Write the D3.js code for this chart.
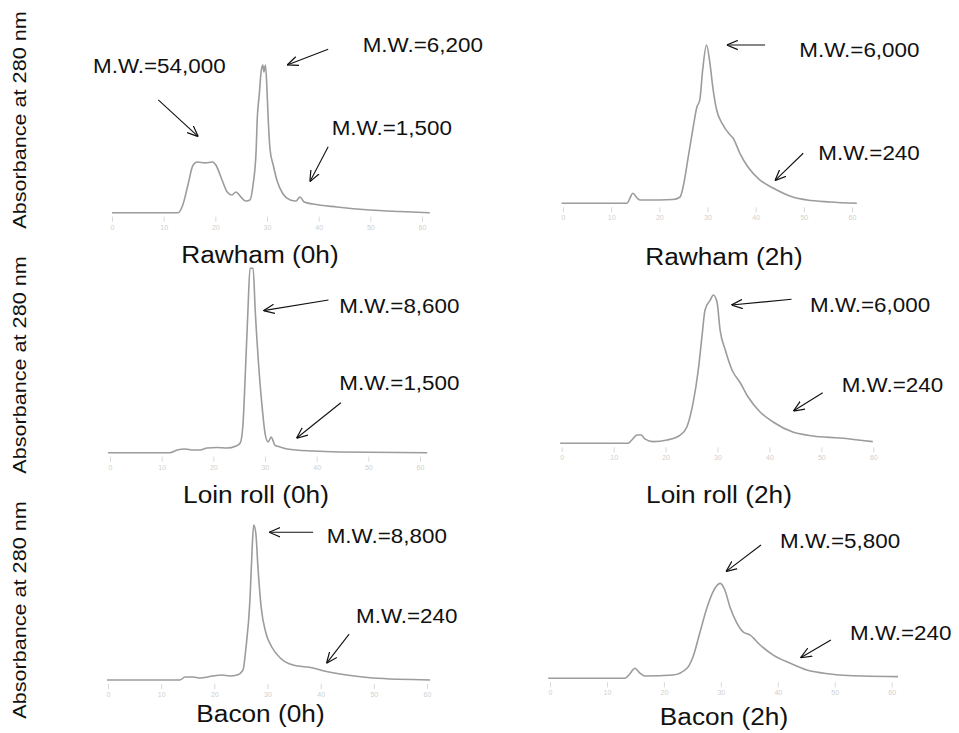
<!DOCTYPE html>
<meta charset="utf-8">
<style>
body { margin: 0; background: #fff; }
svg text { font-family: "Liberation Sans", Arial, sans-serif; fill: #111; }
.trace { fill: none; stroke: #9c9c9c; stroke-width: 1.6px; stroke-linejoin: round; }
.axis .domain { display: none; }
.axis .tick line { stroke: #d8d8d8; }
.axis .tick text { fill: #cfcfcf; font-size: 7px; }
.arrow { stroke: #111; stroke-width: 1.1px; fill: none; }
.title { font-size: 23px; }
.mw { font-size: 20px; }
.ylab { font-size: 18px; }
</style>
<body>
<script src="https://d3js.org/d3.v7.min.js"></script>
<script>
// elution position (0-60) and absorbance (arbitrary units)
var rawham0hX = [0, 12.8, 13.7, 14.7, 15.7, 16.5, 18.0, 19.5, 20.1, 21.3, 22.3, 23.2, 24.0, 24.8, 25.9, 26.7, 27.3, 27.9, 28.1, 28.5, 28.9, 29.2, 29.4, 29.7, 30.0, 30.2, 30.6, 31.2, 31.9, 33.1, 34.5, 35.6, 36.4, 37.2, 38.9, 43.5, 49.9, 55.7, 61.5];
var rawham0hY = [0, 0, 5.1, 18.5, 31.8, 33.8, 33.2, 33.8, 31.8, 21.8, 13.8, 11.8, 13.8, 11.1, 7.8, 8.5, 18.5, 41.8, 61.8, 78.5, 95.1, 98.5, 93.8, 98.5, 81.8, 65.1, 41.8, 31.8, 21.8, 12.5, 8.5, 7.8, 10.5, 7.1, 5.8, 3.8, 1.8, 0.8, 0];

var rawham2hX = [-0.3, 13.3, 13.9, 14.5, 15.4, 16.0, 20.1, 22.8, 24.3, 25.1, 25.9, 27.0, 27.8, 28.4, 29.0, 29.8, 30.5, 31.1, 31.9, 33.0, 34.7, 35.3, 36.7, 38.4, 40.9, 43.6, 47.7, 50.7, 55.4, 61.0];
var rawham2hY = [0, 0, 3.5, 6.7, 3.5, 2.2, 2.2, 2.5, 4.2, 13.5, 28.9, 50.2, 64.2, 68.9, 88.9, 105.5, 93.5, 77.5, 62.2, 53.5, 45.5, 43.5, 33.5, 24.2, 15.5, 10.2, 4.2, 2.2, 0.9, 0];

var loin0hX = [-0.4, 11.6, 13.0, 14.5, 16.1, 17.4, 18.8, 20.7, 22.6, 24.4, 25.2, 25.7, 26.3, 26.7, 27.1, 27.7, 28.1, 28.7, 29.5, 30.0, 30.6, 31.2, 31.9, 32.9, 34.3, 39.3, 44.5, 61.4];
var loin0hY = [0, 0, 1.8, 2.5, 1.8, 1.8, 3.1, 3.5, 3.1, 4.5, 6.5, 17.1, 61.8, 95.1, 123, 123, 95.1, 61.8, 28.5, 13.1, 7.1, 10.5, 5.1, 3.8, 2.5, 1.1, 0.5, 0];

var loin2hX = [-0.3, 12.8, 13.5, 14.5, 15.3, 16.0, 17.6, 20.3, 22.8, 24.1, 25.3, 26.3, 27.0, 27.6, 28.6, 29.2, 29.9, 30.5, 31.5, 32.8, 34.4, 35.9, 38.2, 40.7, 44.5, 48.4, 53.6, 59.9];
var loin2hY = [0, 0, 2.2, 5.5, 5.5, 2.9, 1.1, 2.2, 5.5, 10.9, 26.9, 48.9, 70.9, 88.9, 95.5, 98.9, 94.2, 75.5, 62.2, 48.9, 40.2, 30.9, 20.9, 14.2, 7.5, 4.9, 3.5, 1.1];

var bacon0hX = [-0.2, 13.5, 14.5, 16.0, 17.3, 19.7, 21.4, 22.9, 24.3, 25.4, 25.9, 26.7, 27.1, 27.4, 27.8, 28.2, 28.8, 29.7, 30.8, 32.4, 34.8, 38.6, 39.9, 44.9, 49.8, 60.6];
var bacon0hY = [0, 0, 2, 2, 1.3, 2.7, 3.3, 2.7, 3.3, 6.7, 20, 53.3, 86.7, 103.3, 98, 75.3, 48.7, 31.3, 22, 14.7, 10, 8, 6.7, 3.3, 1.3, 0];

var bacon2hX = [-0.3, 13.2, 14.0, 14.9, 15.8, 16.7, 21.6, 24.1, 25.1, 26.3, 27.6, 28.6, 29.9, 30.7, 31.6, 32.8, 33.9, 35.1, 36.9, 39.2, 42.1, 45.1, 49.2, 55.0, 61.1];
var bacon2hY = [0, 0, 2.9, 6.7, 3.5, 1.5, 2.2, 6.9, 14.2, 30.2, 47.5, 57.5, 63.3, 58.9, 47.5, 36.9, 30.9, 28.9, 22.2, 15.5, 10.2, 5.5, 2.9, 1.5, 1.1];

var tickValues = [0, 10, 20, 30, 40, 50, 60];
var sampleNames = ["Rawham (0h)", "Rawham (2h)", "Loin roll (0h)", "Loin roll (2h)", "Bacon (0h)", "Bacon (2h)"];
var yLabel = "Absorbance at 280 nm";

// molecular weight annotations: label, tip in data units, tail offset px, text position px
var notes = [
    [["M.W.=54,000", 16.7, 50.7, -40, -36.7, 93, 73],
     ["M.W.=6,200", 33.9, 98.5, 41, -15.7, 362.7, 51.7],
     ["M.W.=1,500", 38.3, 20.7, 18.3, -35, 331.7, 135]],
    [["M.W.=6,000", 34.0, 105.5, 38.3, 0, 799.3, 56.7],
     ["M.W.=240", 44.0, 15.1, 28.3, -27.4, 818.3, 160]],
    [["M.W.=8,600", 29.7, 94.7, 65, -10.7, 339.3, 313.3],
     ["M.W.=1,500", 36.1, 9.6, 44.3, -35.6, 339.3, 390]],
    [["M.W.=6,000", 32.7, 92.2, 60, -5.7, 810, 311.7],
     ["M.W.=240", 44.6, 21.5, 29.4, -18.3, 841.7, 391.7]],
    [["M.W.=8,800", 30.3, 98.5, 44, 0, 326.7, 543.3],
     ["M.W.=240", 41.1, 11.1, 22.6, -29.3, 356, 623.3]],
    [["M.W.=5,800", 30.9, 71.1, 35, -26.7, 780, 548.3],
     ["M.W.=240", 44.0, 13.7, 30.3, -17.7, 850, 640]]
];

var series = [[rawham0hX, rawham0hY], [rawham2hX, rawham2hY], [loin0hX, loin0hY],
              [loin2hX, loin2hY], [bacon0hX, bacon0hY], [bacon2hX, bacon2hY]];

// panel frames: pixel x of first/last tick, baseline y, title centre and baseline
var frames = [
    {x0: 112, x6: 422, base: 212.7, tx: 260, ty: 263},
    {x0: 563, x6: 852, base: 203.3, tx: 724, ty: 265},
    {x0: 110, x6: 420, base: 452.7, tx: 256, ty: 503},
    {x0: 561.7, x6: 873.3, base: 443.3, tx: 719, ty: 503},
    {x0: 108, x6: 427, base: 680, tx: 260.5, ty: 721.7},
    {x0: 550, x6: 891.7, base: 678.3, tx: 724, ty: 725}
];

var svg = d3.select("body").append("svg")
    .attr("width", 959)
    .attr("height", 733);

svg.append("defs").append("marker")
    .attr("id", "head")
    .attr("viewBox", "0 0 10 10")
    .attr("refX", 10).attr("refY", 5)
    .attr("markerWidth", 11).attr("markerHeight", 11)
    .attr("markerUnits", "userSpaceOnUse")
    .attr("orient", "auto")
    .append("path")
    .attr("d", "M0,0.8 L10,5 L0,9.2")
    .attr("fill", "none")
    .attr("stroke", "#111")
    .attr("stroke-width", 1.1);

// widen text the way the original lettering is drawn
function widen(sel, k) {
    sel.each(function() {
        var w = this.getComputedTextLength();
        d3.select(this).attr("textLength", w * k).attr("lengthAdjust", "spacingAndGlyphs");
    });
}

frames.forEach(function(f, i) {
    var x = d3.scaleLinear().domain([0, 60]).range([f.x0, f.x6]);
    var y = d3.scaleLinear().domain([0, 100]).range([f.base, f.base - 150]);
    var g = svg.append("g");

    g.append("g")
        .attr("class", "axis")
        .attr("transform", "translate(0," + (f.base + 4) + ")")
        .call(d3.axisBottom(x).tickValues(tickValues).tickSize(5).tickPadding(3));

    var line = d3.line()
        .x(function(d) { return x(d[0]); })
        .y(function(d) { return y(d[1]); })
        .curve(d3.curveMonotoneX);

    g.append("path")
        .attr("class", "trace")
        .attr("d", line(d3.zip(series[i][0], series[i][1])));

    g.append("text")
        .attr("class", "title")
        .attr("x", f.tx).attr("y", f.ty)
        .attr("text-anchor", "middle")
        .text(sampleNames[i])
        .call(widen, 1.14);

    notes[i].forEach(function(n) {
        var tipX = x(n[1]), tipY = y(n[2]);
        g.append("line")
            .attr("class", "arrow")
            .attr("x1", tipX + n[3]).attr("y1", tipY + n[4])
            .attr("x2", tipX).attr("y2", tipY)
            .attr("marker-end", "url(#head)");
        g.append("text")
            .attr("class", "mw")
            .attr("x", n[5]).attr("y", n[6])
            .text(n[0])
            .call(widen, 1.12);
    });
});

// one y label per row of panels
[120, 365, 610].forEach(function(cy) {
    svg.append("text")
        .attr("class", "ylab")
        .attr("transform", "translate(26," + cy + ") rotate(-90)")
        .attr("text-anchor", "middle")
        .text(yLabel)
        .call(widen, 1.2);
});
</script>
</body>
